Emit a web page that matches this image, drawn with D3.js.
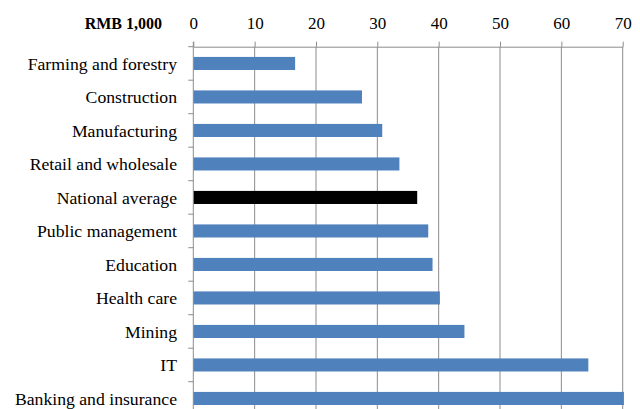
<!DOCTYPE html>
<html>
<head>
<meta charset="utf-8">
<script src="https://cdn.jsdelivr.net/npm/d3@7"></script>
<style>
  html, body { margin: 0; padding: 0; background: #fff; }
  svg { display: block; }
  svg text { font-family: "Liberation Serif", "Times New Roman", Times, "DejaVu Serif", serif; fill: #000; }
</style>
</head>
<body>
<svg id="chart" width="640" height="409"></svg>
<script>
const categories = ["Farming and forestry", "Construction", "Manufacturing", "Retail and wholesale",
  "National average", "Public management", "Education", "Health care", "Mining", "IT", "Banking and insurance"];
const values = [16.6, 27.5, 30.8, 33.6, 36.5, 38.3, 39.0, 40.2, 44.2, 64.4, 70.2];
const highlight = ["National average"];
const tickValues = [0, 10, 20, 30, 40, 50, 60, 70];
const unitLabel = "RMB 1,000";

(function () {
const svg = d3.select("#chart");
const pLeft = 193.3, pRight = 622.7, pTop = 46.7, pBottom = 415.2;

const x = d3.scaleLinear().domain([0, 70]).range([pLeft, pRight]);
const y = d3.scaleBand().domain(categories).range([pTop, pBottom])
  .paddingInner(0.61).paddingOuter(0.305);
const step = y.step();

// gridlines
svg.append("g").selectAll("line").data(tickValues.filter(d => d > 0)).join("line")
  .attr("x1", d => x(d)).attr("x2", d => x(d))
  .attr("y1", pTop).attr("y2", pBottom)
  .attr("stroke", "#8c8c8c").attr("stroke-width", 1);

// bars
svg.append("g").selectAll("rect").data(categories).join("rect")
  .attr("x", x(0))
  .attr("y", d => y(d))
  .attr("width", (d, i) => x(values[i]) - x(0))
  .attr("height", y.bandwidth())
  .attr("fill", d => highlight.includes(d) ? "#000000" : "#4f81bd");

// top axis
const axis = svg.append("g").attr("transform", `translate(0,${pTop})`)
  .call(d3.axisTop(x).tickValues(tickValues).tickSize(5).tickPadding(13).tickSizeOuter(0));
axis.attr("font-family", null).attr("font-size", null);
axis.select(".domain").attr("stroke", "#8c8c8c");
axis.selectAll(".tick line").attr("stroke", "#8c8c8c");
axis.selectAll(".tick text").style("font-size", "17px");

// unit label
svg.append("text").attr("x", 162).attr("y", pTop - 18)
  .attr("text-anchor", "end").style("font-size", "16px")
  .style("font-weight", "bold").text(unitLabel);

// left axis line and ticks between categories
svg.append("line").attr("x1", pLeft).attr("x2", pLeft).attr("y1", pTop - 5).attr("y2", pBottom)
  .attr("stroke", "#8c8c8c");
svg.append("g").selectAll("line").data(d3.range(categories.length + 1)).join("line")
  .attr("x1", pLeft - 5).attr("x2", pLeft)
  .attr("y1", i => pTop + i * step).attr("y2", i => pTop + i * step)
  .attr("stroke", "#8c8c8c");

// category labels
svg.append("g").selectAll("text").data(categories).join("text")
  .attr("x", 177).attr("y", d => y(d) + y.bandwidth() / 2)
  .attr("dy", "0.35em").attr("text-anchor", "end")
  .style("font-size", "17.7px")
  .text(d => d);
})();
</script>
</body>
</html>
